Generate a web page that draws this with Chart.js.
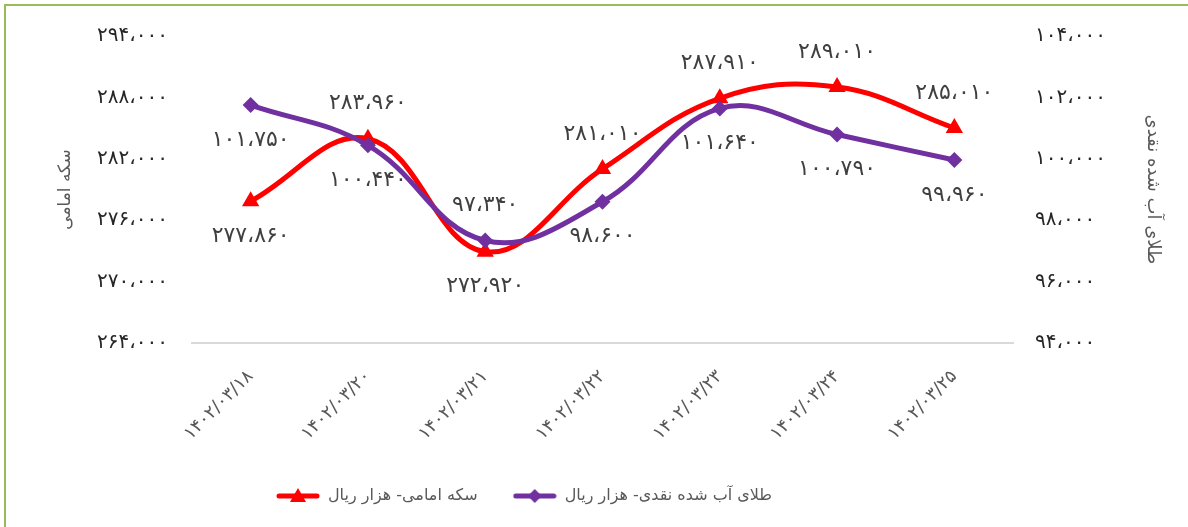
<!DOCTYPE html>
<html lang="fa">
<head>
    <meta charset="UTF-8">
    <title>سکه امامی و طلای آب شده نقدی</title>
    <script src="https://cdn.jsdelivr.net/npm/chart.js"></script>
    <style>
        html, body { margin: 0; padding: 0; background: #fff; }
        .chart-box { position: relative; width: 1188px; height: 527px; }
        .frame {
            position: absolute; left: 4px; top: 4px; right: 0; bottom: 0;
            border-top: 2px solid #9bbb59; border-left: 2px solid #9bbb59;
            pointer-events: none;
        }
    </style>
</head>
<body>
    <div class="chart-box">
        <canvas id="goldChart" width="1188" height="527"></canvas>
        <div class="frame"></div>
    </div>

    <script>
        // dates (Jalali)
        const dates = ['1402/03/18', '1402/03/20', '1402/03/21', '1402/03/22', '1402/03/23', '1402/03/24', '1402/03/25'];
        // coin price, thousand rials (left axis)
        const coinValues = [277860, 283960, 272920, 281010, 287910, 289010, 285010];
        // melted gold price, thousand rials (right axis)
        const goldValues = [101750, 100440, 97340, 98600, 101640, 100790, 99960];

        const coinTicks = { min: 264000, max: 294000, step: 6000 };
        const goldTicks = { min: 94000, max: 104000, step: 2000 };

        // where each value label sits: -1 above the point, 1 below
        const coinLabelSide = [1, -1, 1, -1, -1, -1, -1];
        const goldLabelSide = [1, 1, -1, 1, 1, 1, 1];

        const FONT = "'DejaVu Sans', sans-serif";
        const RED = '#ff0000';
        const PURPLE = '#7030a0';

        function faDigits(s) {
            return String(s).replace(/[0-9]/g, d => '۰۱۲۳۴۵۶۷۸۹'[d]);
        }
        function faNumber(n) {
            return faDigits(n.toLocaleString('en-US')).replace(/,/g, '،');
        }

        // little line + marker picture for the legend
        function legendSwatch(color, style) {
            const c = document.createElement('canvas');
            c.width = 44; c.height = 18;
            const ctx = c.getContext('2d');
            ctx.strokeStyle = color;
            ctx.lineWidth = 5;
            ctx.lineCap = 'round';
            ctx.beginPath();
            ctx.moveTo(3, 9); ctx.lineTo(41, 9);
            ctx.stroke();
            ctx.fillStyle = color;
            ctx.beginPath();
            if (style === 'triangle') {
                ctx.moveTo(22, 1); ctx.lineTo(30, 15); ctx.lineTo(14, 15);
            } else {
                ctx.moveTo(22, 2); ctx.lineTo(29, 9); ctx.lineTo(22, 16); ctx.lineTo(15, 9);
            }
            ctx.closePath();
            ctx.fill();
            return c;
        }

        const valueLabels = {
            id: 'valueLabels',
            afterDatasetsDraw(chart) {
                const ctx = chart.ctx;
                ctx.save();
                ctx.font = '22px ' + FONT;
                ctx.fillStyle = '#404040';
                ctx.textAlign = 'center';
                ctx.textBaseline = 'middle';
                chart.data.datasets.forEach((ds, i) => {
                    const meta = chart.getDatasetMeta(i);
                    meta.data.forEach((pt, j) => {
                        ctx.fillText(faNumber(ds.data[j]), pt.x, pt.y + ds.labelSide[j] * 35);
                    });
                });
                ctx.restore();
            }
        };

        // the legend in the original sits left of centre
        const legendShift = {
            id: 'legendShift',
            afterLayout(chart) {
                chart.legend.left -= 85;
                chart.legend.right -= 85;
            }
        };

        new Chart(document.getElementById('goldChart'), {
            type: 'line',
            data: {
                labels: dates.map(faDigits),
                datasets: [{
                    label: 'طلای آب شده نقدی- هزار ریال',
                    data: goldValues,
                    labelSide: goldLabelSide,
                    yAxisID: 'y1',
                    borderColor: PURPLE,
                    backgroundColor: PURPLE,
                    borderWidth: 5,
                    tension: 0.4,
                    pointStyle: 'rectRot',
                    pointRadius: 8,
                    pointBorderWidth: 0,
                    swatch: legendSwatch(PURPLE, 'diamond')
                }, {
                    label: 'سکه امامی- هزار ریال',
                    data: coinValues,
                    labelSide: coinLabelSide,
                    yAxisID: 'y',
                    borderColor: RED,
                    backgroundColor: RED,
                    borderWidth: 5,
                    tension: 0.4,
                    pointStyle: 'triangle',
                    pointRadius: 10,
                    pointBorderWidth: 0,
                    swatch: legendSwatch(RED, 'triangle')
                }]
            },
            options: {
                responsive: false,
                animation: false,
                layout: { padding: { left: 50, right: 20, top: 33, bottom: 13 } },
                plugins: {
                    tooltip: { enabled: false },
                    legend: {
                        position: 'bottom',
                        reverse: true,
                        labels: {
                            usePointStyle: true,
                            pointStyleWidth: 44,
                            color: '#595959',
                            font: { family: FONT, size: 16 },
                            padding: 35,
                            generateLabels(chart) {
                                return chart.data.datasets.map((ds, i) => ({
                                    text: ds.label,
                                    pointStyle: ds.swatch,
                                    fillStyle: ds.borderColor,
                                    strokeStyle: ds.borderColor,
                                    lineWidth: 0,
                                    fontColor: '#595959',
                                    hidden: false,
                                    datasetIndex: i
                                }));
                            }
                        }
                    }
                },
                scales: {
                    x: {
                        offset: true,
                        grid: { display: false, drawTicks: false },
                        border: { display: true, color: '#d9d9d9', width: 2 },
                        ticks: {
                            color: '#595959',
                            font: { family: FONT, size: 18 },
                            minRotation: 45,
                            maxRotation: 45,
                            padding: 23
                        },
                        afterFit(scale) { scale.height = 110; }
                    },
                    y: {
                        position: 'left',
                        min: coinTicks.min,
                        max: coinTicks.max,
                        grid: { display: false, drawTicks: false },
                        border: { display: false },
                        ticks: {
                            stepSize: coinTicks.step,
                            color: '#262626',
                            font: { family: FONT, size: 20 },
                            padding: 24,
                            callback: v => faNumber(v)
                        },
                        title: {
                            display: true,
                            text: 'سکه امامی',
                            color: '#595959',
                            font: { family: FONT, size: 17 },
                            padding: { top: 5, bottom: 0 }
                        },
                        afterFit(scale) { scale.width = 142; }
                    },
                    y1: {
                        position: 'right',
                        min: goldTicks.min,
                        max: goldTicks.max,
                        grid: { display: false, drawTicks: false },
                        border: { display: false },
                        ticks: {
                            stepSize: goldTicks.step,
                            color: '#262626',
                            font: { family: FONT, size: 20 },
                            padding: 22,
                            callback: v => faNumber(v)
                        },
                        title: {
                            display: true,
                            text: 'طلای آب شده نقدی',
                            color: '#595959',
                            font: { family: FONT, size: 18 },
                            padding: { top: 5, bottom: 0 }
                        },
                        afterFit(scale) { scale.width = 155; }
                    }
                }
            },
            plugins: [valueLabels, legendShift]
        });
    </script>
</body>
</html>
